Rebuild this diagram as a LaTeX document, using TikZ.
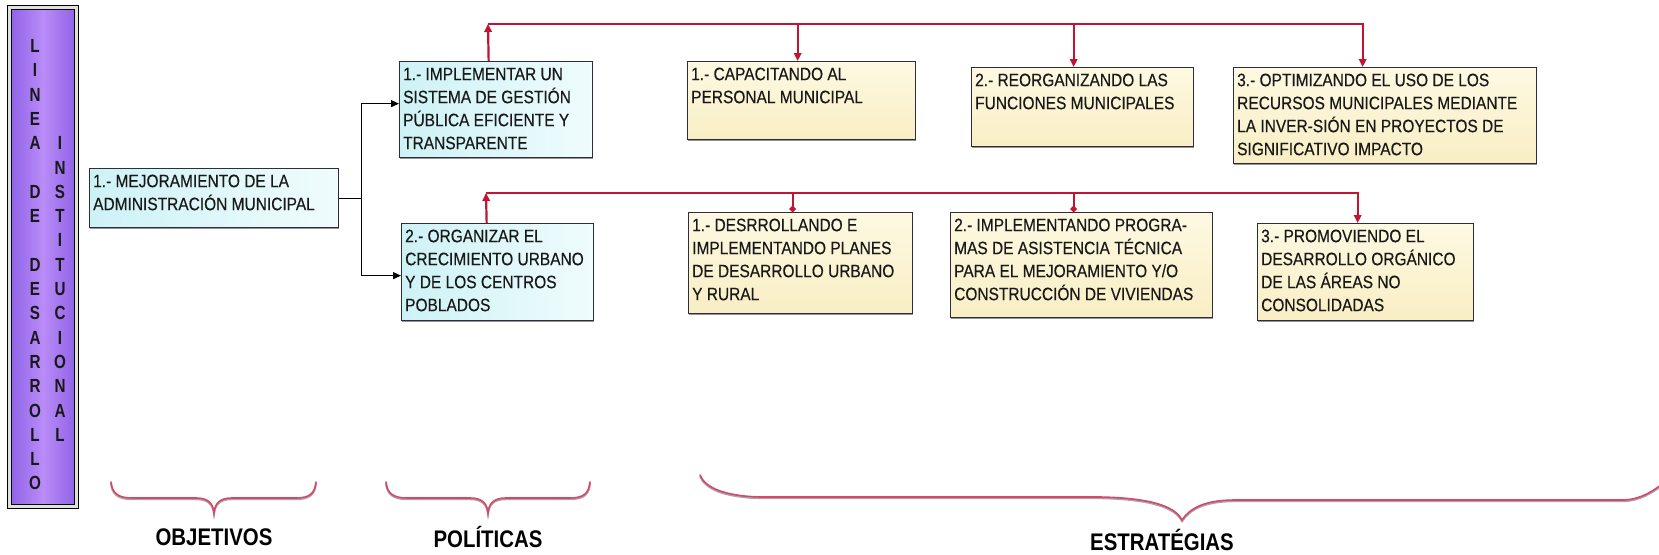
\documentclass[tikz,border=0pt]{standalone}
\usepackage{fontspec}
\setmainfont{Liberation Sans}
\newfontfamily\boxfont[FakeStretch=0.86,FakeBold=0.35]{Liberation Sans}
\newfontfamily\lblfont[FakeStretch=0.85]{Liberation Sans}
\newfontfamily\letfont[FakeStretch=0.8]{Liberation Sans}
\usetikzlibrary{arrows.meta,shadows}
\definecolor{cyanL}{RGB}{205,242,246}
\definecolor{cyanR}{RGB}{240,252,253}
\definecolor{yelT}{RGB}{253,249,226}
\definecolor{yelB}{RGB}{249,238,196}
\definecolor{bordc}{RGB}{45,45,60}
\definecolor{redc}{RGB}{195,20,50}
\definecolor{bracec}{RGB}{214,72,104}
\definecolor{purpA}{RGB}{145,100,232}
\definecolor{purpB}{RGB}{185,140,248}
\definecolor{txtc}{RGB}{25,25,25}
\begin{document}
\begin{tikzpicture}[x=1pt,y=-1pt,
  boxbase/.style={draw=bordc, line width=1.3pt, anchor=north west, inner sep=0pt,
    drop shadow={shadow xshift=0.8pt, shadow yshift=-1.8pt, fill=black!60, opacity=0.7}},
  cbox/.style={boxbase, left color=cyanL, right color=cyanR},
  ybox/.style={boxbase, top color=yelT, bottom color=yelB},
  btxt/.style={anchor=north west, inner sep=0pt, align=left,
    font=\boxfont\fontsize{18}{23}\selectfont, text=txtc},
  blk/.style={line width=1.1pt, draw=black},
  blkarr/.style={blk, -{Triangle[length=8pt,width=7pt]}},
  rl/.style={line width=2.2pt, draw=redc},
  rarr/.style={rl, -{Triangle[length=8pt,width=7.5pt]}},
  rdot/.style={rl, -{Circle[length=6pt,width=6pt]}},
  lbl/.style={font=\lblfont\bfseries\fontsize{24}{28}\selectfont, text=black},
  letter/.style={font=\letfont\bfseries\fontsize{19}{20}\selectfont, inner sep=0pt, text=black!90},
  brc/.style={line width=1.6pt, draw=bracec, line cap=round,
    preaction={draw=black!35, line width=2.0pt, transform canvas={yshift=-1.2pt}}},
]
\useasboundingbox (0,0) rectangle (1659,554);

% vertical band
\node[draw=black, line width=1.3pt, fill=black!12, minimum width=71, minimum height=503,
  anchor=north west, inner sep=0pt] (frame) at (7,5) {};
\node[draw=black, line width=1.1pt, left color=purpA, right color=purpA, middle color=purpB,
  minimum width=63, minimum height=495, anchor=north west, inner sep=0pt] (band) at (11,9) {};
\foreach \r/\c in {1/L,2/I,3/N,4/E,5/A,7/D,8/E,10/D,11/E,12/S,13/A,14/R,15/R,16/O,17/L,18/L,19/O}
  \node[letter] (l\r) at (35,{46+(\r-1)*24.3}) {\c};
\foreach \r/\c in {5/I,6/N,7/S,8/T,9/I,10/T,11/U,12/C,13/I,14/O,15/N,16/A,17/L}
  \node[letter] (r\r) at (60,{46+(\r-1)*24.3}) {\c};

% objective
\node[cbox, minimum width=249, minimum height=59] (obj) at (89,168) {};
\node[btxt] (objt) at (93,170) {\rule{0pt}{17pt}1.- MEJORAMIENTO DE LA\\ADMINISTRACIÓN MUNICIPAL};

% policies
\node[cbox, minimum width=193, minimum height=96] (p1) at (399,61) {};
\node[btxt] (p1t) at (403,63) {\rule{0pt}{17pt}1.- IMPLEMENTAR UN\\SISTEMA DE GESTIÓN\\PÚBLICA EFICIENTE Y\\TRANSPARENTE};
\node[cbox, minimum width=192, minimum height=97] (p2) at (401,223) {};
\node[btxt] (p2t) at (405,225) {\rule{0pt}{17pt}2.- ORGANIZAR EL\\CRECIMIENTO URBANO\\Y DE LOS CENTROS\\POBLADOS};

% strategies row 1
\node[ybox, minimum width=228, minimum height=78] (s1) at (687,61) {};
\node[btxt] (s1t) at (691,63) {\rule{0pt}{17pt}1.- CAPACITANDO AL\\PERSONAL MUNICIPAL};
\node[ybox, minimum width=222, minimum height=79] (s2) at (971,67) {};
\node[btxt] (s2t) at (975,69) {\rule{0pt}{17pt}2.- REORGANIZANDO LAS\\FUNCIONES MUNICIPALES};
\node[ybox, minimum width=303, minimum height=96] (s3) at (1233,67) {};
\node[btxt] (s3t) at (1237,69) {\rule{0pt}{17pt}3.- OPTIMIZANDO EL USO DE LOS\\RECURSOS MUNICIPALES MEDIANTE\\LA INVER-SIÓN EN PROYECTOS DE\\SIGNIFICATIVO IMPACTO};

% strategies row 2
\node[ybox, minimum width=224, minimum height=101] (s4) at (688,212) {};
\node[btxt] (s4t) at (692,214) {\rule{0pt}{17pt}1.- DESRROLLANDO E\\IMPLEMENTANDO PLANES\\DE DESARROLLO URBANO\\Y RURAL};
\node[ybox, minimum width=262, minimum height=105] (s5) at (950,212) {};
\node[btxt] (s5t) at (954,214) {\rule{0pt}{17pt}2.- IMPLEMENTANDO PROGRA-\\MAS DE ASISTENCIA TÉCNICA\\PARA EL MEJORAMIENTO Y/O\\CONSTRUCCIÓN DE VIVIENDAS};
\node[ybox, minimum width=216, minimum height=97] (s6) at (1257,223) {};
\node[btxt] (s6t) at (1261,225) {\rule{0pt}{17pt}3.- PROMOVIENDO EL\\DESARROLLO ORGÁNICO\\DE LAS ÁREAS NO\\CONSOLIDADAS};

% black connectors
\coordinate (j) at ([xshift=22pt]obj.east);
\coordinate (a1) at ([yshift=6pt]p1.west);
\coordinate (a2) at ([yshift=-3.5pt]p2.west);
\draw[blk] (obj.east) -- (j);
\draw[blkarr] (j) |- (a1);
\draw[blkarr] (j) |- (a2);

% red connectors row 1
\coordinate (r1) at (488,24);
\coordinate (u1) at ([xshift=-7.5pt]p1.north);
\coordinate (d1) at ([xshift=-4pt]s1.north);
\coordinate (d2) at ([xshift=-9pt]s2.north);
\coordinate (d3) at ([xshift=-22.5pt]s3.north);
\draw[rarr] (u1) -- (r1);
\draw[rarr] (r1) -| (d3);
\draw[rarr] (d1 |- r1) -- (d1);
\draw[rarr] (d2 |- r1) -- (d2);

% red connectors row 2
\coordinate (r2) at (486,193);
\coordinate (u2) at ([xshift=-11pt]p2.north);
\coordinate (d4) at ([xshift=-8pt]s4.north);
\coordinate (d5) at ([xshift=-8pt]s5.north);
\coordinate (d6) at ([xshift=-8pt]s6.north);
\draw[rarr] (u2) -- (r2);
\draw[rarr] (r2) -| (d6);
\draw[rdot] (d4 |- r2) -- (d4);
\draw[rdot] (d5 |- r2) -- (d5);

% braces
\draw[brc] (111,482) .. controls (112,493) and (118,498) .. (132,498) -- (196,498)
  .. controls (208,498) and (213,503) .. (214,513) .. controls (215,503) and (220,498) .. (232,498)
  -- (296,498) .. controls (310,498) and (315,493) .. (316,482);
\draw[brc] (386,482) .. controls (387,493) and (393,498) .. (407,498) -- (470,498)
  .. controls (482,498) and (487,503) .. (488,513) .. controls (489,503) and (494,498) .. (506,498)
  -- (570,498) .. controls (584,498) and (589,493) .. (590,482);
\draw[brc] (700,475) .. controls (705,488) and (725,496) .. (760,497) -- (1100,497)
  .. controls (1150,498) and (1175,506) .. (1182,520) .. controls (1190,508) and (1205,500) .. (1235,500)
  -- (1625,500) .. controls (1640,499) and (1652,492) .. (1662,484);

% labels
\node[lbl] (lobj) at (214,537) {OBJETIVOS};
\node[lbl] (lpol) at (488,537) {POLÍTICAS};
\node[lbl] (lest) at (1162,540) {ESTRATÉGIAS};
\end{tikzpicture}
\end{document}
